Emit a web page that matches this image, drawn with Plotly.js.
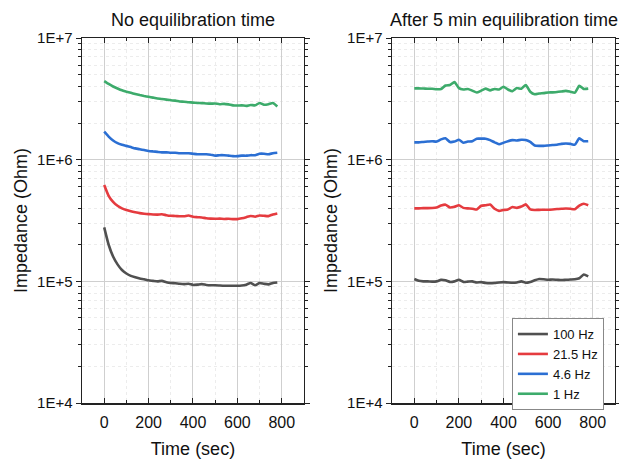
<!DOCTYPE html>
<html>
<head>
<meta charset="utf-8">
<script src="https://cdn.plot.ly/plotly-3.0.1.min.js"></script>
<style>html,body{margin:0;padding:0;background:#fff;}#chart{width:619px;height:459px;}</style>
</head>
<body>
<div id="chart"></div>
<script>
// Time axis (sec)
const timeSec = [0,20,40,60,80,100,120,140,160,180,200,220,240,260,280,300,320,340,360,380,400,420,440,460,480,500,520,540,560,580,600,620,640,660,680,700,720,740,760,780];

const seriesNames = ["100 Hz", "21.5 Hz", "4.6 Hz", "1 Hz"];

// Panel 1: No equilibration time
const noEq_100Hz = [2.78e5,2.0e5,1.6e5,1.38e5,1.24e5,1.16e5,1.11e5,1.08e5,1.055e5,1.04e5,1.02e5,1.01e5,1.0e5,1.01e5,9.85e4,9.7e4,9.65e4,9.55e4,9.5e4,9.55e4,9.35e4,9.4e4,9.5e4,9.35e4,9.3e4,9.3e4,9.25e4,9.2e4,9.2e4,9.2e4,9.2e4,9.25e4,9.4e4,9.7e4,9.3e4,9.7e4,9.55e4,9.45e4,9.7e4,9.8e4];
const noEq_21Hz = [6.2e5,5.05e5,4.5e5,4.18e5,3.98e5,3.86e5,3.77e5,3.70e5,3.64e5,3.60e5,3.57e5,3.55e5,3.54e5,3.56e5,3.50e5,3.46e5,3.45e5,3.43e5,3.43e5,3.48e5,3.40e5,3.37e5,3.35e5,3.30e5,3.28e5,3.27e5,3.28e5,3.26e5,3.27e5,3.25e5,3.25e5,3.30e5,3.37e5,3.45e5,3.40e5,3.48e5,3.46e5,3.44e5,3.55e5,3.62e5];
const noEq_4Hz = [1.70e6,1.55e6,1.44e6,1.37e6,1.33e6,1.30e6,1.27e6,1.24e6,1.22e6,1.20e6,1.18e6,1.17e6,1.16e6,1.15e6,1.15e6,1.14e6,1.14e6,1.13e6,1.13e6,1.13e6,1.12e6,1.11e6,1.11e6,1.11e6,1.10e6,1.08e6,1.09e6,1.09e6,1.08e6,1.07e6,1.07e6,1.08e6,1.08e6,1.09e6,1.09e6,1.12e6,1.12e6,1.11e6,1.13e6,1.14e6];
const noEq_1Hz = [4.43e6,4.2e6,4.0e6,3.85e6,3.72e6,3.63e6,3.55e6,3.47e6,3.40e6,3.34e6,3.29e6,3.24e6,3.19e6,3.16e6,3.12e6,3.08e6,3.06e6,3.01e6,3.00e6,2.97e6,2.95e6,2.93e6,2.92e6,2.90e6,2.89e6,2.90e6,2.86e6,2.88e6,2.85e6,2.80e6,2.79e6,2.80e6,2.77e6,2.82e6,2.80e6,2.93e6,2.83e6,2.86e6,2.93e6,2.74e6];

// Panel 2: After 5 min equilibration time
const eq_100Hz = [1.045e5,1.01e5,1.0e5,1.0e5,0.995e5,1.0e5,1.03e5,1.02e5,0.99e5,1.0e5,1.03e5,0.99e5,0.995e5,1.0e5,0.98e5,0.985e5,0.97e5,0.965e5,0.97e5,0.98e5,0.985e5,0.98e5,0.975e5,0.98e5,1.0e5,0.975e5,0.99e5,1.02e5,1.045e5,1.04e5,1.03e5,1.035e5,1.03e5,1.025e5,1.03e5,1.035e5,1.04e5,1.06e5,1.14e5,1.10e5];
const eq_21Hz = [3.98e5,3.98e5,4.0e5,4.0e5,4.01e5,4.05e5,4.2e5,4.27e5,4.05e5,4.10e5,4.22e5,4.02e5,3.98e5,3.96e5,3.90e5,4.18e5,4.22e5,4.28e5,3.95e5,3.80e5,3.86e5,3.90e5,4.08e5,4.02e5,4.12e5,4.30e5,3.90e5,3.86e5,3.87e5,3.88e5,3.88e5,3.90e5,3.93e5,3.95e5,3.97e5,3.95e5,3.92e5,4.20e5,4.35e5,4.22e5];
const eq_4Hz = [1.39e6,1.39e6,1.40e6,1.41e6,1.42e6,1.41e6,1.47e6,1.50e6,1.40e6,1.41e6,1.46e6,1.38e6,1.41e6,1.42e6,1.49e6,1.49e6,1.49e6,1.45e6,1.39e6,1.34e6,1.38e6,1.42e6,1.45e6,1.44e6,1.46e6,1.45e6,1.40e6,1.31e6,1.30e6,1.30e6,1.31e6,1.32e6,1.33e6,1.35e6,1.36e6,1.35e6,1.33e6,1.50e6,1.42e6,1.42e6];
const eq_1Hz = [3.86e6,3.86e6,3.85e6,3.83e6,3.83e6,3.80e6,3.82e6,4.08e6,4.12e6,4.35e6,3.88e6,3.78e6,3.82e6,3.70e6,3.57e6,3.70e6,3.84e6,3.72e6,3.82e6,3.78e6,3.98e6,3.78e6,3.66e6,3.88e6,3.83e6,4.12e6,3.62e6,3.45e6,3.50e6,3.53e6,3.57e6,3.58e6,3.60e6,3.64e6,3.68e6,3.62e6,3.56e6,4.05e6,3.82e6,3.84e6];

const yTickVals = [1e4, 1e5, 1e6, 1e7];
const yTickText = ["1E+4", "1E+5", "1E+6", "1E+7"];
const yMinorVals = [2e4,3e4,4e4,5e4,6e4,7e4,8e4,9e4,2e5,3e5,4e5,5e5,6e5,7e5,8e5,9e5,2e6,3e6,4e6,5e6,6e6,7e6,8e6,9e6];
const xTickVals = [0, 200, 400, 600, 800];

const colors = ["#505050", "#e53b3f", "#2b6fd3", "#3dab6b"];
const panel1 = [noEq_100Hz, noEq_21Hz, noEq_4Hz, noEq_1Hz];
const panel2 = [eq_100Hz, eq_21Hz, eq_4Hz, eq_1Hz];

const traces = [];
panel1.forEach((ys, i) => traces.push({
  x: timeSec, y: ys, type: "scatter", mode: "lines", name: seriesNames[i],
  line: {color: colors[i], width: 2.6, shape: "spline", smoothing: 0.5},
  xaxis: "x", yaxis: "y", showlegend: false
}));
panel2.forEach((ys, i) => traces.push({
  x: timeSec, y: ys, type: "scatter", mode: "lines", name: seriesNames[i],
  line: {color: colors[i], width: 2.6, shape: "spline", smoothing: 0.5},
  xaxis: "x2", yaxis: "y2", showlegend: true
}));

const fam = "Liberation Sans, Arial, sans-serif";
const font = {family: fam, color: "#111"};

function xAxis(domain, anchor) {
  return {
    domain: domain, anchor: anchor, range: [-100, 900], tickmode: "array", tickvals: xTickVals,
    showline: true, linecolor: "#222", linewidth: 1.5, mirror: "ticks",
    ticks: "inside", ticklen: 5, tickcolor: "#222", tickwidth: 1,
    showgrid: true, gridcolor: "#cfcfcf", gridwidth: 1, zeroline: false,
    minor: {dtick: 100, tick0: 0, ticks: "inside", ticklen: 3, tickcolor: "#222", showgrid: true, gridcolor: "#ececec", griddash: "dot"},
    tickfont: {size: 16, family: fam, color: "#111"},
    ticklabelstandoff: 4,
    title: {text: "Time (sec)", font: {size: 18, family: fam, color: "#111"}, standoff: 14}
  };
}
function yAxis(domain, anchor) {
  return {
    domain: domain, anchor: anchor, type: "log", range: [4, 7],
    tickmode: "array", tickvals: yTickVals, ticktext: yTickText,
    showline: true, linecolor: "#222", linewidth: 1.5, mirror: "ticks",
    ticks: "outside", ticklen: 5, tickcolor: "#222", tickwidth: 1,
    showgrid: true, gridcolor: "#cfcfcf", gridwidth: 1, zeroline: false,
    minor: {tickmode: "array", tickvals: yMinorVals, ticks: "outside", ticklen: 3, tickcolor: "#222", showgrid: true, gridcolor: "#ececec", griddash: "dot"},
    tickfont: {size: 15, family: fam, color: "#111"},
    title: {text: "Impedance (Ohm)", font: {size: 18, family: fam, color: "#111"}, standoff: 5}
  };
}

const yDom = [0.122, 0.917];
const layout = {
  width: 619, height: 459,
  margin: {l: 0, r: 0, t: 0, b: 0},
  paper_bgcolor: "#fff", plot_bgcolor: "#fff",
  font: font,
  xaxis: xAxis([0.1325, 0.491], "y"),
  yaxis: yAxis(yDom, "x"),
  xaxis2: xAxis([0.6333, 0.9935], "y2"),
  yaxis2: yAxis(yDom, "x2"),
  showlegend: true,
  legend: {
    x: 0.827, y: 0.307, xanchor: "left", yanchor: "top",
    bgcolor: "#fff", bordercolor: "#888", borderwidth: 1,
    font: {size: 13, family: fam, color: "#111"},
    tracegroupgap: 0, itemwidth: 30
  },
  annotations: [
    {text: "No equilibration time", xref: "paper", yref: "paper", x: 0.3118, y: 0.956, xanchor: "center", yanchor: "middle", showarrow: false, font: {size: 18, family: fam, color: "#111"}},
    {text: "After 5 min equilibration time", xref: "paper", yref: "paper", x: 0.814, y: 0.956, xanchor: "center", yanchor: "middle", showarrow: false, font: {size: 18, family: fam, color: "#111"}}
  ]
};

Plotly.newPlot("chart", traces, layout, {displayModeBar: false, staticPlot: true});
</script>
</body>
</html>
